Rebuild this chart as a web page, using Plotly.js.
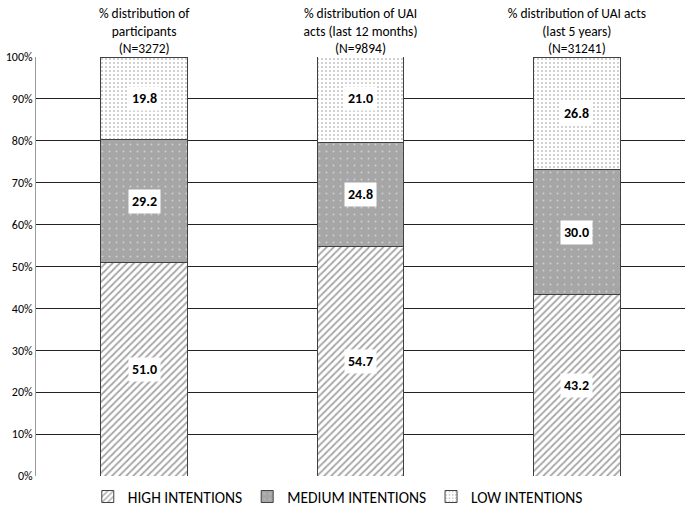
<!DOCTYPE html>
<html><head><meta charset="utf-8">
<script src="https://cdn.plot.ly/plotly-3.0.1.min.js"></script>
<style>html,body{margin:0;padding:0;background:#fff}</style>
</head><body>
<div id="chart" style="width:685px;height:507px"></div>
<script>
const categories = ["% distribution of<br>participants<br>(N=3272)", "% distribution of UAI<br>acts (last 12 months)<br>(N=9894)", "% distribution of UAI acts<br>(last 5 years)<br>(N=31241)"];
const highValues = [51.0, 54.7, 43.2];
const mediumValues = [29.2, 24.8, 30.0];
const lowValues = [19.8, 21.0, 26.8];
const seriesNames = ["HIGH INTENTIONS", "MEDIUM INTENTIONS", "LOW INTENTIONS"];
const yTickVals = [0,10,20,30,40,50,60,70,80,90,100];
const yTickText = yTickVals.map(v => v + "%");

const FONT = "Carlito, Lato, 'Open Sans', sans-serif";
const xs = [0,1,2];
const line = {color:'#404040', width:1};
const traces = [
  {type:'bar', name:seriesNames[0], x:xs, y:highValues, width:0.4,
   marker:{color:'#ffffff', line:line, pattern:{shape:'/', fgcolor:'#a6a6a6', bgcolor:'#ffffff', size:5, solidity:0.35}}},
  {type:'bar', name:seriesNames[1], x:xs, y:mediumValues, width:0.4,
   marker:{color:'#a6a6a6', line:line, pattern:{shape:'.', fgcolor:'#d0d0d0', bgcolor:'#a6a6a6', size:7, solidity:0.06}}},
  {type:'bar', name:seriesNames[2], x:xs, y:lowValues, width:0.4,
   marker:{color:'#ffffff', line:line, pattern:{shape:'.', fgcolor:'#8a8a8a', bgcolor:'#ffffff', size:4, solidity:0.1}}}
];
const annotations = [];
const series = [highValues, mediumValues, lowValues];
xs.forEach(i => {
  let base = 0;
  series.forEach(s => {
    annotations.push({x:i, y:base + s[i]/2, xref:'x', yref:'y', text:'<b>'+s[i].toFixed(1)+'</b>',
      showarrow:false, bgcolor:'#ffffff', borderpad:3, font:{family:FONT, size:14, color:'#000'}});
    base += s[i];
  });
});
const layout = {
  width:685, height:507,
  margin:{l:36, r:0, t:57, b:31, autoexpand:false},
  paper_bgcolor:'#fff', plot_bgcolor:'#fff',
  barmode:'stack',
  showlegend:true,
  legend:{orientation:'h', x:0.465, xanchor:'center', y:-0.05, yanchor:'middle', font:{family:FONT, size:15.5, color:'#000'}, traceorder:'normal', itemwidth:30},
  xaxis:{side:'top', tickmode:'array', tickvals:xs, ticktext:categories, range:[-0.5,2.5],
    showgrid:false, zeroline:false, showline:false, ticks:'', tickfont:{family:FONT, size:13.5, color:'#000'}, fixedrange:true},
  yaxis:{range:[0,100], tickvals:yTickVals, ticktext:yTickText, showgrid:true, gridcolor:'#222', gridwidth:1,
    zeroline:false, showline:true, linecolor:'#999', linewidth:1, ticks:'', tickfont:{family:FONT, size:12, color:'#000'}},
  annotations:annotations,
  font:{family:FONT}
};
Plotly.newPlot('chart', traces, layout, {displayModeBar:false, staticPlot:true});
</script>
</body></html>
